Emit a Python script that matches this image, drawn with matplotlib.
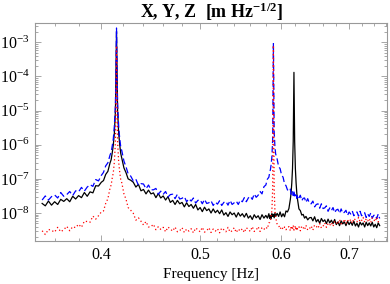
import matplotlib
matplotlib.use("Agg")
import matplotlib.pyplot as plt
import numpy as np
from matplotlib.ticker import (FixedLocator, FormatStrFormatter,
                               LogFormatterSciNotation, NullFormatter)

# frequency grid [Hz], shared by the three spectra
freq = [
    0.3500, 0.3525, 0.3550, 0.3575, 0.3600, 0.3625, 0.3650, 0.3675, 0.3700, 0.3725,
    0.3750, 0.3775, 0.3800, 0.3825, 0.3850, 0.3875, 0.3900, 0.3925, 0.3950, 0.3975,
    0.4000, 0.4020, 0.4040, 0.4060, 0.4080, 0.4090, 0.4100, 0.4110, 0.4120, 0.4130,
    0.4140, 0.4150, 0.4160, 0.4170, 0.4180, 0.4190, 0.4210, 0.4230, 0.4250, 0.4275,
    0.4300, 0.4325, 0.4350, 0.4375, 0.4400, 0.4425, 0.4450, 0.4475, 0.4500, 0.4525,
    0.4550, 0.4575, 0.4600, 0.4625, 0.4650, 0.4675, 0.4700, 0.4725, 0.4750, 0.4775,
    0.4800, 0.4825, 0.4850, 0.4875, 0.4900, 0.4925, 0.4950, 0.4975, 0.5000, 0.5025,
    0.5050, 0.5075, 0.5100, 0.5125, 0.5150, 0.5175, 0.5200, 0.5225, 0.5250, 0.5275,
    0.5300, 0.5325, 0.5350, 0.5375, 0.5400, 0.5425, 0.5450, 0.5475, 0.5500, 0.5525,
    0.5550, 0.5575, 0.5600, 0.5625, 0.5650, 0.5675, 0.5700, 0.5725, 0.5750, 0.5775,
    0.5800, 0.5820, 0.5840, 0.5850, 0.5860, 0.5870, 0.5880, 0.5890, 0.5900, 0.5910,
    0.5920, 0.5930, 0.5950, 0.5970, 0.5990, 0.6010, 0.6030, 0.6050, 0.6070, 0.6090,
    0.6110, 0.6130, 0.6140, 0.6150, 0.6160, 0.6170, 0.6180, 0.6190, 0.6200, 0.6210,
    0.6220, 0.6230, 0.6250, 0.6270, 0.6290, 0.6310, 0.6330, 0.6350, 0.6375, 0.6400,
    0.6425, 0.6450, 0.6475, 0.6500, 0.6525, 0.6550, 0.6575, 0.6600, 0.6625, 0.6650,
    0.6675, 0.6700, 0.6725, 0.6750, 0.6775, 0.6800, 0.6825, 0.6850, 0.6875, 0.6900,
    0.6925, 0.6950, 0.6975, 0.7000, 0.7025, 0.7050, 0.7075, 0.7100, 0.7125, 0.7150,
    0.7175, 0.7200, 0.7225, 0.7250, 0.7275, 0.7300, 0.7325, 0.7350, 0.7375, 0.7400,
    0.7425, 0.7450, 0.7475, 0.7500,
]

# log10 of amplitude spectral density [m Hz^-1/2]
x_log = [
    -7.72, -7.79, -7.65, -7.77, -7.67, -7.75, -7.60, -7.66, -7.58, -7.67,
    -7.51, -7.59, -7.49, -7.55, -7.40, -7.51, -7.38, -7.41, -7.20, -7.21,
    -7.10, -7.05, -6.87, -6.78, -6.53, -6.44, -6.24, -6.01, -5.65, -5.00,
    -2.68, -5.00, -5.65, -6.00, -6.26, -6.40, -6.68, -6.82, -7.00, -7.04,
    -7.10, -7.24, -7.16, -7.35, -7.31, -7.44, -7.33, -7.44, -7.41, -7.55,
    -7.43, -7.56, -7.50, -7.62, -7.52, -7.69, -7.63, -7.75, -7.63, -7.73,
    -7.69, -7.82, -7.70, -7.81, -7.75, -7.86, -7.75, -7.91, -7.84, -7.96,
    -7.83, -7.93, -7.88, -8.00, -7.88, -7.99, -7.92, -8.02, -7.91, -8.06,
    -7.99, -8.10, -7.97, -8.05, -8.00, -8.12, -7.99, -8.09, -8.02, -8.12,
    -8.01, -8.15, -8.08, -8.19, -8.05, -8.14, -8.08, -8.19, -8.05, -8.15,
    -8.07, -8.15, -8.02, -8.16, -8.07, -8.17, -8.02, -8.10, -8.04, -8.14,
    -8.00, -8.10, -8.01, -8.10, -7.97, -8.11, -8.02, -8.11, -7.94, -7.97,
    -7.87, -7.60, -7.42, -7.12, -6.70, -5.90, -3.88, -5.90, -6.70, -7.12,
    -7.42, -7.60, -7.88, -7.93, -8.06, -8.04, -8.15, -8.10, -8.20, -8.14,
    -8.13, -8.23, -8.11, -8.26, -8.19, -8.30, -8.16, -8.25, -8.20, -8.31,
    -8.18, -8.29, -8.21, -8.31, -8.19, -8.34, -8.26, -8.37, -8.23, -8.32,
    -8.26, -8.37, -8.24, -8.34, -8.26, -8.36, -8.24, -8.38, -8.30, -8.41,
    -8.27, -8.35, -8.29, -8.41, -8.27, -8.37, -8.29, -8.38, -8.27, -8.41,
    -8.33, -8.43, -8.29, -8.37,
]

y_log = [
    -7.62, -7.50, -7.62, -7.52, -7.47, -7.56, -7.40, -7.51, -7.46, -7.37,
    -7.49, -7.35, -7.38, -7.25, -7.36, -7.24, -7.17, -7.22, -7.02, -7.06,
    -6.90, -6.81, -6.62, -6.53, -6.30, -6.22, -6.04, -5.83, -5.45, -4.80,
    -2.58, -4.80, -5.45, -5.82, -6.07, -6.18, -6.48, -6.65, -6.85, -6.92,
    -7.06, -7.01, -7.19, -7.14, -7.15, -7.29, -7.18, -7.32, -7.32, -7.28,
    -7.45, -7.36, -7.45, -7.37, -7.53, -7.46, -7.45, -7.58, -7.45, -7.59,
    -7.57, -7.52, -7.67, -7.58, -7.65, -7.56, -7.71, -7.63, -7.61, -7.73,
    -7.60, -7.72, -7.70, -7.64, -7.78, -7.68, -7.74, -7.64, -7.78, -7.69,
    -7.66, -7.77, -7.63, -7.75, -7.70, -7.65, -7.75, -7.62, -7.67, -7.55,
    -7.67, -7.56, -7.51, -7.60, -7.44, -7.54, -7.48, -7.37, -7.44, -7.23,
    -7.18, -7.01, -6.95, -6.82, -6.73, -6.58, -6.35, -5.85, -3.02, -5.60,
    -6.05, -6.27, -6.42, -6.64, -6.70, -6.89, -6.95, -7.14, -7.20, -7.32,
    -7.36, -7.30, -7.45, -7.38, -7.36, -7.49, -7.36, -7.50, -7.48, -7.42,
    -7.57, -7.47, -7.55, -7.48, -7.64, -7.57, -7.56, -7.69, -7.58, -7.72,
    -7.73, -7.65, -7.82, -7.75, -7.73, -7.86, -7.73, -7.87, -7.85, -7.79,
    -7.95, -7.85, -7.93, -7.84, -7.99, -7.91, -7.89, -8.01, -7.88, -8.01,
    -7.98, -7.92, -8.07, -7.97, -8.03, -7.94, -8.08, -8.00, -7.97, -8.09,
    -7.95, -8.08, -8.05, -7.99, -8.13, -8.03, -8.10, -8.00, -8.15, -8.07,
    -8.05, -8.16, -8.03, -8.16,
]

z_log = [
    -8.52, -8.63, -8.48, -8.51, -8.56, -8.42, -8.55, -8.49, -8.39, -8.52,
    -8.40, -8.43, -8.33, -8.42, -8.24, -8.25, -8.27, -8.09, -8.18, -8.08,
    -7.97, -7.94, -7.72, -7.58, -7.27, -7.18, -6.98, -6.82, -6.50, -5.90,
    -3.10, -5.90, -6.50, -6.80, -7.03, -7.12, -7.44, -7.60, -7.84, -7.92,
    -8.01, -8.21, -8.14, -8.24, -8.35, -8.25, -8.41, -8.40, -8.33, -8.49,
    -8.40, -8.48, -8.42, -8.55, -8.41, -8.47, -8.53, -8.41, -8.55, -8.52,
    -8.43, -8.57, -8.47, -8.53, -8.46, -8.58, -8.44, -8.49, -8.55, -8.42,
    -8.56, -8.52, -8.43, -8.57, -8.47, -8.53, -8.46, -8.58, -8.44, -8.49,
    -8.55, -8.42, -8.56, -8.52, -8.43, -8.57, -8.47, -8.53, -8.46, -8.57,
    -8.43, -8.48, -8.54, -8.40, -8.54, -8.50, -8.40, -8.54, -8.43, -8.48,
    -8.41, -8.46, -8.29, -8.28, -8.22, -8.08, -7.92, -7.30, -3.09, -7.30,
    -7.92, -8.13, -8.33, -8.36, -8.47, -8.40, -8.48, -8.41, -8.49, -8.42,
    -8.40, -8.52, -8.38, -8.43, -8.49, -8.36, -8.50, -8.46, -8.37, -8.51,
    -8.41, -8.47, -8.40, -8.52, -8.38, -8.43, -8.49, -8.36, -8.50, -8.46,
    -8.38, -8.50, -8.35, -8.39, -8.45, -8.31, -8.44, -8.39, -8.29, -8.42,
    -8.31, -8.36, -8.28, -8.39, -8.24, -8.28, -8.33, -8.19, -8.32, -8.28,
    -8.18, -8.31, -8.21, -8.26, -8.19, -8.30, -8.16, -8.20, -8.26, -8.13,
    -8.26, -8.22, -8.13, -8.27, -8.17, -8.23, -8.16, -8.28, -8.14, -8.19,
    -8.25, -8.12, -8.26, -8.22,
]

assert len(freq) == len(x_log) == len(y_log) == len(z_log)

x_major = [0.4, 0.5, 0.6, 0.7]
x_minor = [0.34, 0.36, 0.38, 0.42, 0.44, 0.46, 0.48, 0.52, 0.54, 0.56, 0.58,
           0.62, 0.64, 0.66, 0.68, 0.72, 0.74, 0.76]
y_major = [1e-8, 1e-7, 1e-6, 1e-5, 1e-4, 1e-3]

plt.rcParams['font.family'] = ['Liberation Serif', 'DejaVu Serif']
plt.rcParams['mathtext.fontset'] = 'custom'
plt.rcParams['mathtext.rm'] = 'Liberation Serif'
plt.rcParams['mathtext.it'] = 'Liberation Serif:italic'
plt.rcParams['mathtext.bf'] = 'Liberation Serif:bold'

frame_col = '#999999'

fig = plt.figure(figsize=(3.9, 2.84), dpi=100)
ax = fig.add_axes([35 / 390, 43 / 284, 352 / 390, 218 / 284])

f = np.array(freq)
ax.plot(f, 10 ** np.array(x_log), color='black', lw=0.9)
ax.plot(f, 10 ** np.array(y_log), color='blue', lw=0.9, dashes=(5, 2.5))
ax.plot(f, 10 ** np.array(z_log), color='red', lw=0.9, dashes=(1, 2))

ax.set_xscale('log')
ax.set_yscale('log')
ax.set_xlim(0.3444, 0.7625)
ax.set_ylim(10 ** -8.82, 10 ** -2.434)

ax.xaxis.set_major_locator(FixedLocator(x_major))
ax.xaxis.set_major_formatter(FormatStrFormatter('%.1f'))
ax.xaxis.set_minor_locator(FixedLocator(x_minor))
ax.xaxis.set_minor_formatter(NullFormatter())
ax.yaxis.set_major_locator(FixedLocator(y_major))
ax.yaxis.set_major_formatter(LogFormatterSciNotation())
y_minor = [m * d for d in [1e-9, 1e-8, 1e-7, 1e-6, 1e-5, 1e-4, 1e-3]
           for m in range(2, 10)]
ax.yaxis.set_minor_locator(FixedLocator(y_minor))
ax.yaxis.set_minor_formatter(NullFormatter())

for s in ax.spines.values():
    s.set_color(frame_col)
    s.set_linewidth(0.8)
ax.tick_params(which='both', direction='in', top=True, right=True,
               color=frame_col, width=0.6, labelsize=11.5, pad=4)
ax.tick_params(which='major', length=4)
ax.tick_params(which='minor', length=2)

ax.set_xlabel('Frequency [Hz]', fontsize=11, labelpad=4)
ax.set_title(r'X, Y, Z  [m Hz$^{\mathbf{-1/2}}$]', fontsize=13,
             fontweight='bold', pad=3)

fig.savefig('out.png', dpi=100)
